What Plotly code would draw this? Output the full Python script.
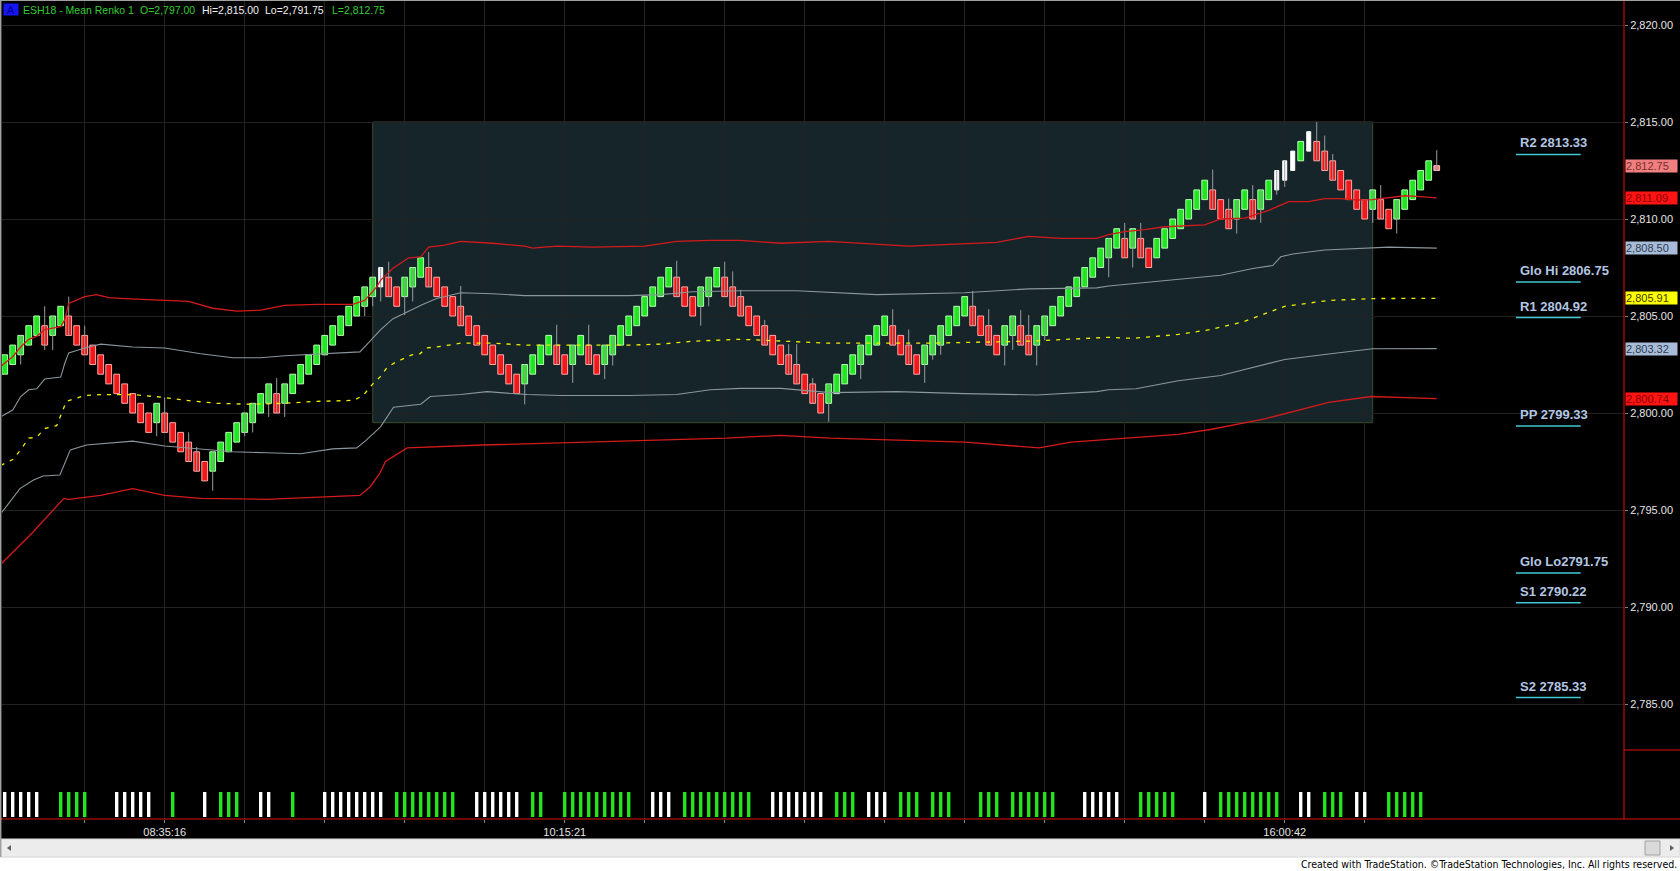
import plotly.graph_objects as go

# ---- renko bricks (bar index = position) ----
opens = [2802, 2802.5, 2803, 2803.5, 2804, 2804.5, 2804, 2804.5, 2805, 2804.5,
         2804, 2803.5, 2803, 2802.5, 2802, 2801.5, 2801, 2800.5, 2800, 2799.5,
         2800, 2799.5, 2799, 2798.5, 2798, 2797.5, 2797, 2797.5, 2798, 2798.5,
         2799, 2799.5, 2800, 2800.5, 2801, 2800.5, 2801, 2801.5, 2802, 2802.5,
         2803, 2803.5, 2804, 2804.5, 2805, 2805.5, 2806, 2806.5, 2807, 2806.5,
         2806, 2806.5, 2807, 2807.5, 2807, 2806.5, 2806, 2805.5, 2805, 2804.5,
         2804, 2803.5, 2803, 2802.5, 2802, 2801.5, 2802, 2802.5, 2803, 2803.5,
         2803, 2802.5, 2803, 2803.5, 2803, 2802.5, 2803, 2803.5, 2804, 2804.5,
         2805, 2805.5, 2806, 2806.5, 2807, 2806.5, 2806, 2805.5, 2806, 2806.5,
         2807, 2806.5, 2806, 2805.5, 2805, 2804.5, 2804, 2803.5, 2803, 2802.5,
         2802, 2801.5, 2801, 2800.5, 2801, 2801.5, 2802, 2802.5, 2803, 2803.5,
         2804, 2804.5, 2804, 2803.5, 2803, 2802.5, 2803, 2803.5, 2804, 2804.5,
         2805, 2805.5, 2805, 2804.5, 2804, 2803.5, 2804, 2804.5, 2804, 2803.5,
         2804, 2804.5, 2805, 2805.5, 2806, 2806.5, 2807, 2807.5, 2808, 2808.5,
         2809, 2808.5, 2809, 2808.5, 2808, 2808.5, 2809, 2809.5, 2810, 2810.5,
         2811, 2811.5, 2811, 2810.5, 2810, 2810.5, 2811, 2810.5, 2811, 2811.5,
         2812, 2812.5, 2813, 2813.5, 2814, 2813.5, 2813, 2812.5, 2812, 2811.5,
         2811, 2810.5, 2811, 2810.5, 2810, 2810.5, 2811, 2811.5, 2812, 2812.5]
closes = [2803, 2803.5, 2804, 2804.5, 2805, 2803.5, 2805, 2805.5, 2804, 2803.5,
          2803, 2802.5, 2802, 2801.5, 2801, 2800.5, 2800, 2799.5, 2799, 2800.5,
          2799, 2798.5, 2798, 2797.5, 2797, 2796.5, 2798, 2798.5, 2799, 2799.5,
          2800, 2800.5, 2801, 2801.5, 2800, 2801.5, 2802, 2802.5, 2803, 2803.5,
          2804, 2804.5, 2805, 2805.5, 2806, 2806.5, 2807, 2807.5, 2806, 2805.5,
          2807, 2807.5, 2808, 2806.5, 2806, 2805.5, 2805, 2804.5, 2804, 2803.5,
          2803, 2802.5, 2802, 2801.5, 2801, 2802.5, 2803, 2803.5, 2804, 2802.5,
          2802, 2803.5, 2804, 2802.5, 2802, 2803.5, 2804, 2804.5, 2805, 2805.5,
          2806, 2806.5, 2807, 2807.5, 2806, 2805.5, 2805, 2806.5, 2807, 2807.5,
          2806, 2805.5, 2805, 2804.5, 2804, 2803.5, 2803, 2802.5, 2802, 2801.5,
          2801, 2800.5, 2800, 2801.5, 2802, 2802.5, 2803, 2803.5, 2804, 2804.5,
          2805, 2803.5, 2803, 2802.5, 2802, 2803.5, 2804, 2804.5, 2805, 2805.5,
          2806, 2804.5, 2804, 2803.5, 2803, 2804.5, 2805, 2803.5, 2803, 2804.5,
          2805, 2805.5, 2806, 2806.5, 2807, 2807.5, 2808, 2808.5, 2809, 2809.5,
          2808, 2809.5, 2808, 2807.5, 2809, 2809.5, 2810, 2810.5, 2811, 2811.5,
          2812, 2810.5, 2810, 2809.5, 2811, 2811.5, 2810, 2811.5, 2812, 2812.5,
          2813, 2813.5, 2814, 2814.5, 2813, 2812.5, 2812, 2811.5, 2811, 2810.5,
          2810, 2811.5, 2810, 2809.5, 2811, 2811.5, 2812, 2812.5, 2813, 2812.75]
white_bars = [47, 159, 160, 161, 163]
live_bar = 179

# wick extremes where the wick sticks out of the body
wick_hi = {5: 2805.5, 8: 2806.0, 10: 2804.5, 20: 2800.8, 23: 2799.0, 24: 2798.25,
           34: 2801.8, 48: 2807.8, 53: 2808.3, 57: 2806.55, 69: 2804.55, 73: 2804.55,
           84: 2807.85, 90: 2807.8, 91: 2807.3, 92: 2806.35, 95: 2804.8, 98: 2803.55,
           99: 2803.55, 101: 2801.8, 111: 2805.35, 113: 2804.3, 121: 2806.3,
           123: 2805.35, 127: 2805.3, 128: 2805.05, 140: 2809.8, 142: 2809.8,
           151: 2812.55, 153: 2811.05, 156: 2811.75, 164: 2815.0, 165: 2814.3,
           166: 2813.35, 172: 2811.75, 179: 2813.55}
wick_lo = {2: 2802.5, 5: 2803.25, 6: 2803.25, 19: 2798.8, 26: 2796.0, 30: 2798.8,
           31: 2799.0, 33: 2799.8, 35: 2799.8, 45: 2805.0, 46: 2805.5, 47: 2805.75,
           50: 2805.05, 51: 2805.75, 65: 2800.45, 71: 2801.55, 75: 2801.75,
           76: 2802.45, 87: 2804.5, 88: 2805.5, 103: 2799.55, 107: 2801.75,
           115: 2801.55, 116: 2802.75, 117: 2803.0, 125: 2802.45, 126: 2803.25,
           129: 2802.45, 130: 2803.75, 138: 2807.0, 141: 2807.5, 154: 2809.25,
           157: 2809.8, 159: 2811.25, 160: 2811.65, 171: 2809.8, 174: 2809.25}

# ---- band lines (bar index, price) ----
upper_red_x = [-0.5, 1, 2, 3, 4, 5, 7, 7.5, 8, 10, 11.5, 13, 15, 20, 23, 26, 29, 32, 35, 39,
               43.5, 45, 46.5, 47, 48.5, 50.5, 52, 53, 55, 57, 61, 65, 66, 69, 73.5, 80, 84,
               88, 92, 97, 103, 113, 120, 124, 128, 132, 136.5, 138, 140, 142.5, 145, 150,
               152, 155, 158, 160.5, 163, 165, 167, 169, 171, 173, 175, 177, 179]
upper_red_y = [2802.4, 2802.9, 2803.4, 2803.8, 2803.95, 2804.3, 2804.45, 2804.8, 2805.65,
               2806.0, 2806.1, 2805.95, 2805.9, 2805.8, 2805.75, 2805.4, 2805.25, 2805.3,
               2805.55, 2805.6, 2805.6, 2805.8, 2806.5, 2806.85, 2807.45, 2808.0, 2808.05,
               2808.55, 2808.65, 2808.85, 2808.75, 2808.6, 2808.5, 2808.6, 2808.55, 2808.6,
               2808.85, 2808.9, 2808.9, 2808.75, 2808.85, 2808.6, 2808.75, 2808.8, 2809.1,
               2809.0, 2809.0, 2809.2, 2809.35, 2809.45, 2809.6, 2809.7, 2810.0, 2810.05,
               2810.45, 2810.9, 2810.9, 2811.05, 2811.05, 2810.98, 2811.0, 2811.1, 2811.2,
               2811.15, 2811.09]
upper_gray_x = [-0.5, 1, 2, 3, 4, 5, 7, 7.5, 8, 10, 12, 16, 20, 24.5, 28.5, 32, 35, 39, 44.4,
                45.2, 47, 48.5, 50.7, 52.3, 54, 57, 61, 65, 69.5, 73.5, 78, 82, 86, 92, 99,
                109, 120, 128, 136.5, 138, 143, 147, 152, 156, 158.5, 159.5, 161, 165, 173, 179]
upper_gray_y = [2799.8, 2800.15, 2800.85, 2801.2, 2801.25, 2801.75, 2801.85, 2802.55, 2803.1,
                2803.35, 2803.55, 2803.4, 2803.35, 2803.05, 2802.85, 2802.85, 2802.95, 2803.05,
                2803.15, 2803.5, 2804.3, 2804.85, 2805.3, 2805.6, 2805.9, 2806.2, 2806.15,
                2806.05, 2806.05, 2806.05, 2806.05, 2806.1, 2806.25, 2806.3, 2806.3, 2806.1,
                2806.2, 2806.4, 2806.45, 2806.55, 2806.75, 2806.9, 2807.1, 2807.45, 2807.6,
                2808.05, 2808.2, 2808.4, 2808.55, 2808.5]
mid_x = [-0.5, 1, 2, 3, 4, 5, 6.5, 7.7, 10, 12, 16, 20, 22.7, 26.5, 30.7, 34.8, 39, 43.6,
         44.8, 45.9, 46.9, 47.8, 48.8, 49.8, 50.9, 51.9, 52.7, 54.8, 57, 61, 65, 69.5, 73.5,
         78, 82, 86, 92, 103, 115.7, 128, 138, 141, 146.7, 150.7, 154.8, 160, 165.5, 171, 179]
mid_y = [2797.3, 2797.6, 2798.1, 2798.7, 2798.75, 2799.2, 2799.35, 2800.6, 2800.9, 2800.95,
         2800.95, 2800.8, 2800.65, 2800.5, 2800.45, 2800.5, 2800.6, 2800.65, 2800.9, 2801.45,
         2801.85, 2802.35, 2802.6, 2802.8, 2803.0, 2803.05, 2803.35, 2803.45, 2803.6, 2803.6,
         2803.5, 2803.5, 2803.5, 2803.5, 2803.55, 2803.7, 2803.8, 2803.6, 2803.6, 2803.7,
         2803.9, 2803.85, 2804.05, 2804.3, 2804.7, 2805.5, 2805.8, 2805.9, 2805.91]
lower_gray_x = [-0.5, 1.9, 3.6, 4.8, 6.9, 8.2, 10.2, 16, 20, 24.5, 28.5, 32.7, 37, 41, 44,
                45.2, 47, 48.6, 52, 53.2, 57, 60.3, 65.3, 69.5, 73.5, 78, 84, 88.2, 92, 97,
                103.2, 111.5, 120, 129, 136.5, 138, 141.4, 146.7, 152, 160, 165.5, 171, 179]
lower_gray_y = [2794.8, 2796.1, 2796.55, 2796.75, 2796.8, 2798.1, 2798.35, 2798.55, 2798.3,
                2798.15, 2798.0, 2797.95, 2797.9, 2798.15, 2798.2, 2798.6, 2799.3, 2800.3,
                2800.45, 2800.85, 2800.95, 2801.1, 2800.95, 2800.9, 2800.9, 2800.9, 2800.95,
                2801.2, 2801.27, 2801.27, 2801.05, 2801.1, 2801.0, 2800.93, 2801.1, 2801.2,
                2801.25, 2801.66, 2801.93, 2802.76, 2803.04, 2803.31, 2803.32]
lower_red_x = [-0.5, 3.4, 7.4, 8, 12, 16, 20, 24.5, 32.7, 41, 44.4, 45.7, 46.9, 47.6, 50.3,
               59.7, 79.8, 90.2, 96.9, 103.2, 120, 129.3, 133.3, 146.7, 150.7, 157.5, 165.5,
               170.8, 179]
lower_red_y = [2792.2, 2793.8, 2795.6, 2795.55, 2795.75, 2796.1, 2795.75, 2795.6, 2795.55,
               2795.7, 2795.75, 2796.2, 2796.9, 2797.5, 2798.2, 2798.35, 2798.6, 2798.7,
               2798.85, 2798.7, 2798.5, 2798.2, 2798.5, 2798.9, 2799.15, 2799.7, 2800.55,
               2800.85, 2800.74]

# lower panel marks per brick: W = white, G = green, . = none
vol_marks = list("WWWWW..GGGG...WWWWW..G...W.GGG..WW..G...WWWWWWWW.GGGGGGGG..WWWWWW.GG.."
                 "GGGGGGGGG..WWW.GGGGGGGGG..WWWWWWW.GGG.WWW.GGG.GGG...GGG.GGGGGG..."
                 "WWWWW..GGGGG...W.GGGGGGGG..WW.GGG.WW..GGGGG..")

# session range box (bar from/to, price low/high)
box_bars = [46, 171]
box_prices = [2799.5, 2815.0]

pivot_labels = ['R2 2813.33', 'Glo Hi 2806.75', 'R1 2804.92', 'PP 2799.33',
                'Glo Lo2791.75', 'S1 2790.22', 'S2 2785.33']
pivot_levels = [2813.33, 2806.75, 2804.92, 2799.33, 2791.75, 2790.22, 2785.33]

price_ticks = [2785, 2790, 2795, 2800, 2805, 2810, 2815, 2820]
tick_bars = list(range(10, 171, 10))
time_labels = {20: '08:35:16', 70: '10:15:21', 160: '16:00:42'}

symbol = 'ESH18 - Mean Renko 1'
sess_open, sess_hi, sess_lo = 2797.00, 2815.00, 2791.75

# ---- page geometry (pixels) ----
W, H = 1680, 871
PL, PR, PB = 2, 1624, 819
PANEL = 750  # price panel bottom


def fx(px):
    return (px - PL) / (PR - PL)


def fy(py):
    return (PB - py) / PB


FONT = 'Arial, Liberation Sans, sans-serif'
GREEN, GREEN_EDGE = '#22e622', '#b4ffb4'
RED, RED_EDGE = '#f01818', '#ffa8a8'
GRID = '#222222'

fig = go.Figure()

# wicks
wx, wy = [], []
for i, (o, c) in enumerate(zip(opens, closes)):
    lo = wick_lo.get(i, min(o, c))
    hi = wick_hi.get(i, max(o, c))
    if lo < min(o, c) or hi > max(o, c):
        wx += [i, i, None]
        wy += [lo, hi, None]
fig.add_trace(go.Scatter(x=wx, y=wy, mode='lines', line=dict(color='#9c9c9c', width=1),
                         hoverinfo='skip'))

# bands
for xs, ys, col, dash, w in [
        (upper_red_x, upper_red_y, '#d41a1a', 'solid', 1.3),
        (lower_red_x, lower_red_y, '#d41a1a', 'solid', 1.3),
        (upper_gray_x, upper_gray_y, '#8a979c', 'solid', 1.1),
        (lower_gray_x, lower_gray_y, '#8a979c', 'solid', 1.1),
        (mid_x, mid_y, '#f0f000', '4px,6px', 1.3)]:
    fig.add_trace(go.Scatter(x=xs, y=ys, mode='lines', line=dict(color=col, width=w, dash=dash),
                             hoverinfo='skip'))

# bodies
fill, edge, bw = [], [], []
for i, (o, c) in enumerate(zip(opens, closes)):
    if i == live_bar:
        fill.append('#f08a8a'); edge.append('#ffb8b8'); bw.append(0.72)
    elif i in white_bars:
        fill.append('#ffffff'); edge.append('#ffffff'); bw.append(0.5)
    elif c > o:
        fill.append(GREEN); edge.append(GREEN_EDGE); bw.append(0.72)
    else:
        fill.append(RED); edge.append(RED_EDGE); bw.append(0.72)
fig.add_trace(go.Bar(x=list(range(len(closes))),
                     y=[abs(c - o) for o, c in zip(opens, closes)],
                     base=[min(o, c) for o, c in zip(opens, closes)],
                     width=bw, marker=dict(color=fill, line=dict(color=edge, width=1)),
                     hoverinfo='skip'))

# lower panel marks
vx = [i for i, m in enumerate(vol_marks) if m != '.']
vc = ['#ffffff' if vol_marks[i] == 'W' else GREEN for i in vx]
fig.add_trace(go.Bar(x=vx, y=[1] * len(vx), width=0.42, marker=dict(color=vc, line=dict(width=0)),
                     yaxis='y2', hoverinfo='skip'))

shapes = [
    dict(type='rect', xref='x', yref='y', x0=box_bars[0], x1=box_bars[1],
         y0=box_prices[0], y1=box_prices[1], fillcolor='#16252a',
         line=dict(color='#3c4a2c', width=1), layer='below'),
    # axis frame lines
    dict(type='line', xref='paper', yref='paper', x0=1, x1=1, y0=0, y1=1,
         line=dict(color='#e01010', width=1)),
    dict(type='line', xref='paper', yref='paper', x0=fx(0), x1=fx(W), y0=0, y1=0,
         line=dict(color='#e01010', width=1)),
    dict(type='line', xref='paper', yref='paper', x0=1, x1=fx(W), y0=fy(PANEL), y1=fy(PANEL),
         line=dict(color='#e01010', width=1)),
    # window chrome
    dict(type='rect', xref='paper', yref='paper', x0=fx(0), x1=fx(W), y0=fy(857), y1=fy(H),
         fillcolor='#ffffff', line=dict(width=0)),
    dict(type='rect', xref='paper', yref='paper', x0=fx(0), x1=fx(W), y0=fy(839), y1=fy(857),
         fillcolor='#ececec', line=dict(color='#d6d6d6', width=1)),
    dict(type='rect', xref='paper', yref='paper', x0=fx(1645), x1=fx(1660), y0=fy(841), y1=fy(855),
         fillcolor='#dadada', line=dict(color='#a2a2a2', width=1)),
    dict(type='path', xref='paper', yref='paper',
         path=f'M {fx(7)},{fy(848)} L {fx(11)},{fy(845)} L {fx(11)},{fy(851)} Z',
         fillcolor='#606060', line=dict(width=0)),
    dict(type='path', xref='paper', yref='paper',
         path=f'M {fx(1674)},{fy(848)} L {fx(1670)},{fy(845)} L {fx(1670)},{fy(851)} Z',
         fillcolor='#606060', line=dict(width=0)),
    dict(type='line', xref='paper', yref='paper', x0=fx(0.7), x1=fx(0.7), y0=fy(0), y1=fy(857),
         line=dict(color='#a0a0a0', width=1.5)),
    dict(type='line', xref='paper', yref='paper', x0=fx(0), x1=fx(W), y0=fy(0.5), y1=fy(0.5),
         line=dict(color='#a0a0a0', width=1)),
]

annotations = []
# pivot labels with cyan underline at the level
for txt, lvl in zip(pivot_labels, pivot_levels):
    shapes.append(dict(type='line', xref='x', yref='y', x0=188.9, x1=197.0, y0=lvl, y1=lvl,
                       line=dict(color='#40c8d4', width=1.5)))
    annotations.append(dict(xref='x', yref='y', x=189.1, y=lvl, text=f'<b>{txt}</b>',
                            xanchor='left', yanchor='bottom', yshift=2, showarrow=False,
                            font=dict(family=FONT, size=13, color='#b2c6e2')))

# last-value tags on the price axis
for val, bg, fg in [(closes[-1], '#f08080', '#7a2e2e'),
                    (upper_red_y[-1], '#ff1414', '#8a0000'),
                    (upper_gray_y[-1], '#a8bcd8', '#2c3c52'),
                    (mid_y[-1], '#ffff00', '#3a3a00'),
                    (lower_gray_y[-1], '#a8bcd8', '#2c3c52'),
                    (lower_red_y[-1], '#ff1414', '#8a0000')]:
    annotations.append(dict(xref='paper', yref='y', x=1, y=val, xshift=1, text=f'{val:,.2f}',
                            xanchor='left', yanchor='middle', showarrow=False, align='left',
                            width=51, height=12, bgcolor=bg, borderpad=0,
                            font=dict(family=FONT, size=11, color=fg)))

# header
annotations.append(dict(xref='paper', yref='paper', x=fx(2.5), y=fy(9.5), text='A',
                        xanchor='left', yanchor='middle', showarrow=False, width=14, height=11,
                        bgcolor='#1616f5', borderpad=0,
                        font=dict(family=FONT, size=11, color='#00008a')))
for px, txt, col in [(22, symbol, '#33cc33'),
                     (139, f'O={sess_open:,.2f}', '#33cc33'),
                     (201, f'Hi={sess_hi:,.2f}', '#f0f0f0'),
                     (264, f'Lo={sess_lo:,.2f}', '#f0f0f0'),
                     (331, f'L={closes[-1]:,.2f}', '#33cc33')]:
    annotations.append(dict(xref='paper', yref='paper', x=fx(px), y=fy(10), text=txt,
                            xanchor='left', yanchor='middle', showarrow=False, borderpad=0,
                            font=dict(family=FONT, size=10.5, color=col)))

annotations.append(dict(xref='paper', yref='paper', x=fx(1678), y=fy(864),
                        text='Created with TradeStation. \u00a9TradeStation Technologies, Inc. All rights reserved.',
                        xanchor='right', yanchor='middle', showarrow=False, borderpad=0,
                        font=dict(family='Liberation Sans Narrow, DejaVu Sans Condensed, Arial',
                                  size=10.5, color='#000000')))

fig.update_layout(
    width=W, height=H,
    margin=dict(l=PL, r=W - PR, t=0, b=H - PB),
    paper_bgcolor='#000000', plot_bgcolor='#000000',
    showlegend=False, barmode='overlay', hovermode=False,
    font=dict(family=FONT, size=11, color='#e6e6e6'),
    xaxis=dict(domain=[0, 1], range=[-0.3375, 202.41], anchor='y2',
               tickvals=tick_bars, ticktext=[time_labels.get(b, '') for b in tick_bars],
               showgrid=True, gridcolor=GRID, gridwidth=1, zeroline=False,
               ticks='outside', ticklen=3, tickcolor='#808080',
               tickfont=dict(family=FONT, size=11, color='#e6e6e6')),
    yaxis=dict(domain=[fy(PANEL), 1], range=[2782.629, 2821.289], side='right', anchor='x',
               tickvals=price_ticks, tickformat=',.2f', showgrid=True, gridcolor=GRID,
               zeroline=False, ticks='outside', ticklen=3, tickcolor='#808080',
               tickfont=dict(family=FONT, size=11, color='#e6e6e6')),
    yaxis2=dict(domain=[0, fy(PANEL)], range=[-0.08, 2.68], anchor='x', showgrid=False,
                showticklabels=False, zeroline=False),
    shapes=shapes, annotations=annotations,
)

fig.write_html("out.html", config={'displayModeBar': False},
               post_script="document.body.style.margin='0';document.body.style.overflow='hidden';")
